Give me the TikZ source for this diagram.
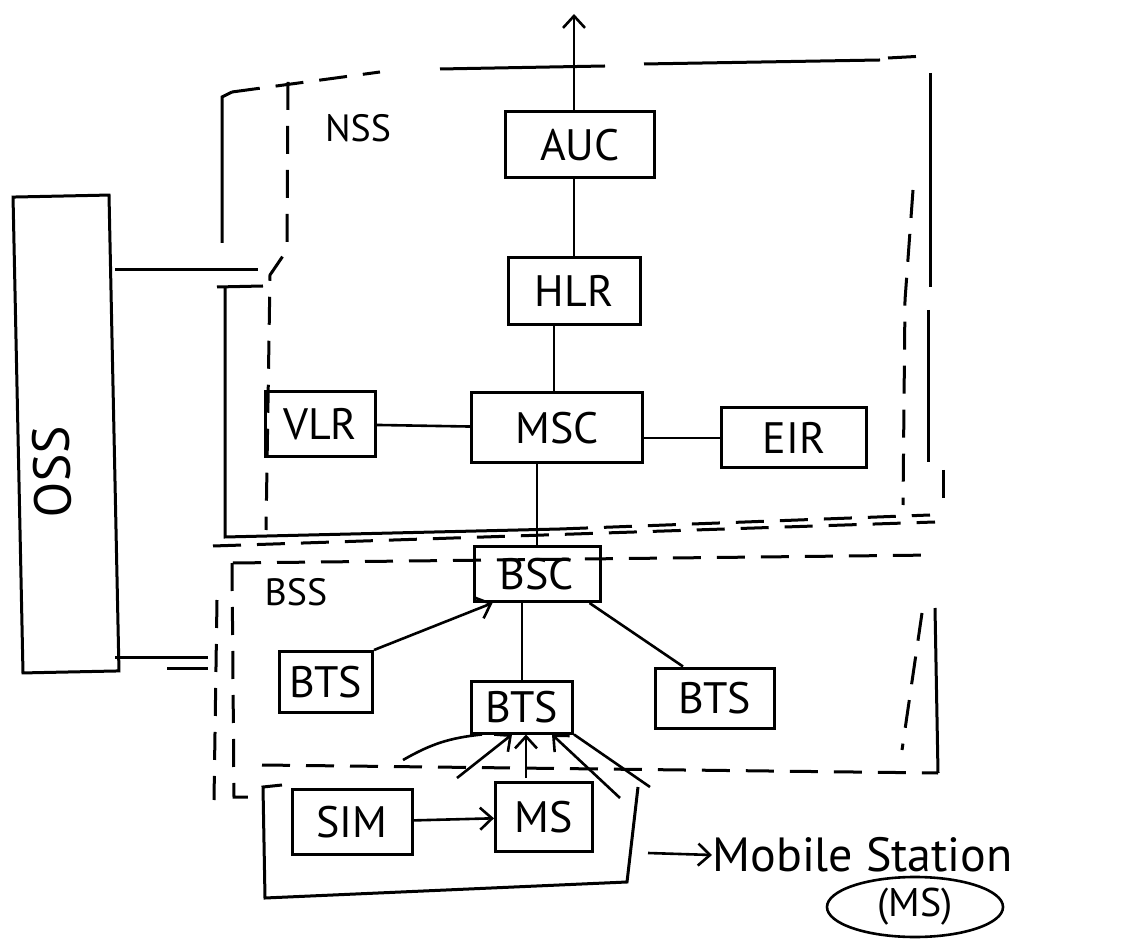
\documentclass[tikz,border=0pt]{standalone}
\usepackage{fontspec}
\setmainfont{PT Sans}
\usepackage{tikz}
\usetikzlibrary{arrows.meta,positioning,shapes.geometric}
\tikzset{
    >={Straight Barb[length=6pt,width=11pt,line width=1.3pt]},
    netbox/.style={draw=black, line width=1.5pt, inner sep=0pt, font=\fontsize{22}{24}\selectfont},
    zone/.style={draw=black, line width=1.5pt},
    zonedash/.style={zone, dash pattern=on 14pt off 8pt},
    wire/.style={draw=black, line width=1.3pt},
    wirearrow/.style={wire, ->},
    tag/.style={inner sep=0pt, font=\fontsize{17}{19}\selectfont}
}

\begin{document}
\begin{tikzpicture}[x=0.5pt, y=-0.5pt]
    \path[use as bounding box, fill=white] (0,0) rectangle (1123,945);
    % NSS units
    \node[netbox, minimum width=74.5pt, minimum height=33pt] (auc) at (580,145) {AUC};
    \node[netbox, minimum width=66pt, minimum height=33.5pt] (hlr) at (574,291) {HLR};
    \node[netbox, minimum width=85.5pt, minimum height=35pt] (msc) at (557,428) {MSC};
    \node[netbox, minimum width=55pt, minimum height=32.5pt] (vlr) at (320,424) {VLR};
    \node[netbox, minimum width=72.5pt, minimum height=30pt] (eir) at (794,438) {EIR};
    % BSS units
    \node[netbox, minimum width=63pt, minimum height=27.5pt] (bsc) at (537,574) {BSC};
    \node[netbox, minimum width=46.5pt, minimum height=30.5pt] (btsl) at (326,682) {BTS};
    \node[netbox, minimum width=50.5pt, minimum height=26pt] (btsc) at (522,707) {BTS};
    \node[netbox, minimum width=59.5pt, minimum height=30pt] (btsr) at (715,698) {BTS};
    % mobile station
    \node[netbox, minimum width=60pt, minimum height=32.5pt] (sim) at (352,822) {SIM};
    \node[netbox, minimum width=48.5pt, minimum height=34.5pt] (ms) at (544,817) {MS};
    % OSS
    \node[netbox, rotate=91.2, minimum width=238pt, minimum height=48pt] (oss) at (66,434) {};
    \node[tag, rotate=91.2, font=\fontsize{26}{28}\selectfont] (osstext) at (52,472) {OSS};
    % labels
    \node[tag, font=\fontsize{19}{21}\selectfont] (nsslbl) at (358,128) {NSS};
    \node[tag, font=\fontsize{19}{21}\selectfont] (bsslbl) at (296,592) {BSS};
    \node[tag, anchor=west, font=\fontsize{24}{26}\selectfont] (mslbl) at (712,855) {Mobile Station};
    \node[draw, ellipse, line width=1.3pt, inner sep=0pt, minimum width=88pt, minimum height=30pt, font=\fontsize{20}{22}\selectfont] (mscirc) at (915,907) {(MS)};

    % NSS frame
    \draw[zone] (222,243) -- (222,97) -- (232,92);
    \draw[zonedash] (232,92) -- (380,72);
    \draw[zone] (440,69) -- (605,66);
    \draw[zone] (644,64) -- (880,60);
    \draw[zonedash] (888,58) -- (925,56);
    \draw[zone] (930,73) -- (930,287);
    \draw[zone] (928,310) -- (928,462);
    \draw[zonedash] (943,470) -- (943,510);
    \draw[zonedash] (288,82) -- (287,250) -- (270,275) -- (266,530);
    \draw[zonedash] (913,190) -- (905,300) -- (903,505);
    \draw[zone] (217,287) -- (263,286);
    \draw[zone] (225,287) -- (225,537) -- (560,529);
    \draw[zonedash] (560,529) -- (930,515);
    \draw[zonedash] (213,546) -- (935,522);
    % BSS frame
    \draw[zonedash] (233,563) -- (935,555);
    \draw[zonedash] (232,563) -- (234,797) -- (256,797);
    \draw[zonedash] (217,600) -- (214,800);
    \draw[zone] (935,608) -- (938,773);
    \draw[zonedash] (922,613) -- (902,750);
    \draw[zonedash] (262,765) -- (938,773);
    % MS group
    \draw[zone] (282,785) -- (263,787) -- (265,898) -- (627,882) -- (638,787);

    % free ends
    \coordinate (top) at (574,14);
    \coordinate (nssin) at (258,270);
    \coordinate (bssin) at (208,657);
    \coordinate (bssin2) at (208,668);
    \coordinate (dbl) at (167,668);
    \coordinate (m1) at (403,760);
    \coordinate (m2) at (457,778);
    \coordinate (m3) at (526,778);
    \coordinate (m4) at (620,798);
    \coordinate (m5) at (650,787);
    \coordinate (grpe) at (648,853);

    % connectors
    \draw[wirearrow] (hlr.north |- auc.north) -- (top);
    \draw[wire] (hlr.north |- auc.south) -- (hlr.north);
    \draw[wire] ([xshift=-10pt]hlr.south) -- ([xshift=-10pt]hlr.south |- msc.north);
    \draw[wire] (vlr) -- (msc);
    \draw[wire] (msc.east |- eir.west) -- (eir.west);
    \draw[wire] (bsc.north |- msc.south) -- (bsc.north);
    \draw[wirearrow] (btsl.north east) -- ([xshift=10pt]bsc.south west);
    \draw[wire] (bsc.south -| btsc) -- (btsc.north);
    \draw[wire] ([xshift=-6pt]bsc.south east) -- ([xshift=-16pt]btsr.north);
    \draw[wirearrow] (sim) -- (ms);
    \draw[wire] (m1) to[bend left=12] ([xshift=-20pt]btsc.south);
    \draw[wirearrow] (m2) -- ([xshift=-5pt]btsc.south);
    \draw[wirearrow] (m3) -- ([xshift=2pt]btsc.south);
    \draw[wirearrow] (m4) -- ([xshift=15pt]btsc.south);
    \draw[wire] (m5) -- (btsc.south east);
    \draw[zone] (oss.south |- nssin) -- (nssin);
    \draw[zone] (oss.south |- bssin) -- (bssin);
    \draw[zone] (dbl) -- (bssin2);
    \draw[wirearrow] (grpe) -- (mslbl.west);
\end{tikzpicture}
\end{document}
